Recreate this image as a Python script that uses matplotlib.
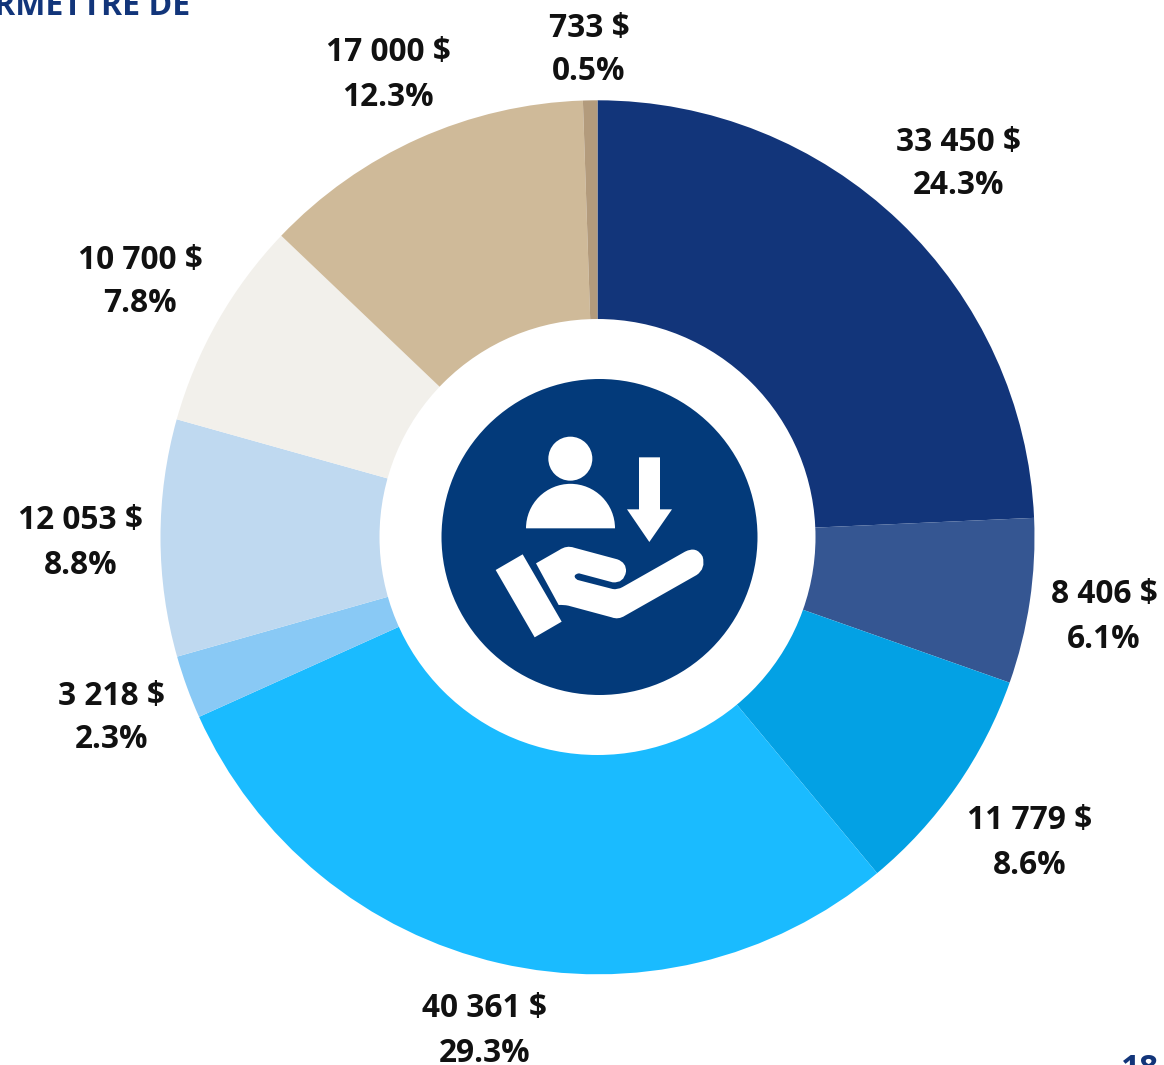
import matplotlib
matplotlib.use("Agg")
import matplotlib.pyplot as plt
from matplotlib.patches import Circle, Polygon, Wedge, PathPatch
from matplotlib.path import Path

values = [33450, 8406, 11779, 40361, 3218, 12053, 10700, 17000, 733]
amounts = ["33 450 $", "8 406 $", "11 779 $", "40 361 $", "3 218 $", "12 053 $", "10 700 $", "17 000 $", "733 $"]
percents = ["24.3%", "6.1%", "8.6%", "29.3%", "2.3%", "8.8%", "7.8%", "12.3%", "0.5%"]
colors = ["#12357A", "#355692", "#03A1E4", "#1ABBFF", "#89C9F5", "#BFD9F0", "#F2F0EB", "#CFBA99", "#B39B7C"]

W, H = 1164, 1065
label_x = [959, 1104, 1030, 485, 112, 81, 140, 388, 589]
label_y = [142, 595, 821, 1009, 696, 521, 260, 53, 28]

plt.rcParams["font.family"] = ["Open Sans", "DejaVu Sans"]

fig = plt.figure(figsize=(W / 100, H / 100), dpi=100)
ax = fig.add_axes([0, 0, 1, 1])

# pixel coordinates, y measured from the top of the image
def py(y):
    return H - y

ax.pie(values, colors=colors, startangle=90, counterclock=False,
       center=(597.5, py(537.3)), radius=437, frame=True,
       wedgeprops={"linewidth": 0})
ax.add_patch(Circle((597.5, py(537)), 218, color="white", lw=0, zorder=3))
ax.add_patch(Circle((599.5, py(537)), 158, color="#033A7A", lw=0, zorder=4))

def ic(x, y):
    return (430 + x / 3, py(370 + y / 3))

icon = {"color": "white", "lw": 0, "zorder": 5}
ax.add_patch(Circle(ic(421, 266), 22, **icon))
ax.add_patch(Wedge(ic(421.5, 475), 44.5, 0, 180, **icon))
arrow = [(627, 262), (690, 262), (690, 418), (726, 418), (658, 516), (591, 418), (627, 418)]
ax.add_patch(Polygon([ic(*p) for p in arrow], **icon))
sleeve = [(197, 600), (278, 553), (395, 755), (314, 802)]
ax.add_patch(Polygon([ic(*p) for p in sleeve], **icon))

L, Q = Path.LINETO, Path.CURVE3
hand = [
    ((318, 580), Path.MOVETO), ((388, 540), L), ((410, 525), Q), ((432, 533), Q),
    ((562, 568), L), ((590, 578), Q), ((588, 605), Q), ((582, 640), Q), ((548, 637), Q),
    ((447, 610), L), ((433, 612), Q), ((434, 620), Q), ((436, 629), Q), ((447, 631), Q),
    ((548, 657), L), ((562, 660), Q), ((578, 651), Q), ((765, 545), L),
    ((800, 527), Q), ((818, 560), Q), ((828, 596), Q), ((800, 615), Q),
    ((585, 737), L), ((565, 750), Q), ((545, 742), Q), ((415, 707), L),
    ((400, 704), Q), ((386, 705), Q), ((318, 580), L),
]
ax.add_patch(PathPatch(Path([ic(*p) for p, c in hand], [c for p, c in hand]), **icon))

for i in range(len(values)):
    for j, s in enumerate([amounts[i], percents[i]]):
        ax.text(label_x[i], py(label_y[i] + j * 44), s, ha="center", va="center",
                fontsize=22.8, fontweight="bold", color="#111111")

# cropped heading and page number at the edges of the page
ax.text(190, py(15), "PERMETTRE DE", ha="right", va="baseline", fontsize=23,
        fontweight="bold", color="#12357A")
ax.text(1140, py(1078), "18", ha="center", va="baseline", fontsize=24,
        fontweight="bold", color="#12357A")

ax.set_xlim(0, W)
ax.set_ylim(0, H)
ax.set_aspect("equal")
ax.axis("off")
fig.savefig("out.png", dpi=100)
